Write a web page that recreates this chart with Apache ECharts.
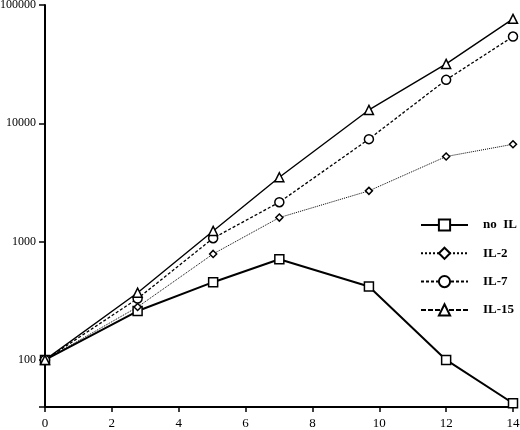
<!DOCTYPE html>
<html>
<head>
<meta charset="utf-8">
<script src="https://cdn.jsdelivr.net/npm/echarts@6/dist/echarts.min.js"></script>
<style>html,body{margin:0;padding:0;background:#fff;}#c{width:520px;height:430px;}</style>
</head>
<body>
<div id="c"></div>
<script>
var days = [0, 2.77, 5.03, 7.01, 9.69, 12, 14];
var seriesNames = ['no  IL', 'IL-2', 'IL-7', 'IL-15'];
var noIL = [100, 259, 454, 710, 417, 100, 43];
var il2 = [100, 280, 787, 1596, 2685, 5240, 6650];
var il7 = [100, 330, 1069, 2153, 7350, 23290, 54100];
var il15 = [100, 370, 1231, 3500, 12970, 31770, 76400];
var xTicks = [0, 2, 4, 6, 8, 10, 12, 14];
var yTicks = [100, 1000, 10000, 100000];

function pairs(vals) { return days.map(function (d, i) { return [d, vals[i]]; }); }

var FONT = '"Liberation Serif", "DejaVu Serif", serif';
var chart = echarts.init(document.getElementById('c'), null, { renderer: 'canvas' });

function mk(name, vals, symbol, size, lineStyle) {
  return {
    name: name, type: 'line', data: pairs(vals),
    symbol: symbol, symbolSize: size, showSymbol: true,
    itemStyle: { color: '#fff', borderColor: '#000', borderWidth: 1.5 },
    lineStyle: Object.assign({ color: '#000' }, lineStyle),
    emphasis: { disabled: true }, animation: false, z: 3
  };
}

chart.setOption({
  animation: false,
  grid: { left: 45, right: 7, top: 5, bottom: 23, containLabel: false, outerBoundsMode: 'none' },
  legend: {
    orient: 'vertical', left: 415, top: 213,
    itemWidth: 47, itemHeight: 14, itemGap: 14.3,
    textStyle: { fontFamily: FONT, fontWeight: 'bold', fontSize: 13, lineHeight: 14, color: '#000', padding: [0, 0, 0, 10] },
    data: [
      { name: seriesNames[0] },
      { name: seriesNames[1] },
      { name: seriesNames[2] },
      { name: seriesNames[3], lineStyle: { type: [5, 2] } }
    ],
    selectedMode: false
  },
  xAxis: {
    type: 'value', min: 0, max: 14, interval: 2,
    splitLine: { show: false },
    axisLine: { lineStyle: { color: '#000', width: 2 } },
    axisTick: { length: 5, lineStyle: { color: '#000', width: 1.5 } },
    axisLabel: { color: '#000', fontFamily: FONT, fontSize: 13, margin: 10,
      formatter: function (v) { return xTicks.indexOf(v) >= 0 ? String(v) : ''; } }
  },
  yAxis: {
    type: 'log', min: 40, max: 100000, logBase: 10,
    splitLine: { show: false },
    axisLine: { show: true, lineStyle: { color: '#000', width: 2 } },
    axisTick: { show: true, length: 6, lineStyle: { color: '#000', width: 1.5 } },
    axisLabel: { color: '#000', fontFamily: FONT, fontSize: 12, margin: 9,
      formatter: function (v) {
        for (var i = 0; i < yTicks.length; i++) { if (Math.abs(v - yTicks[i]) / yTicks[i] < 1e-6) return String(yTicks[i]); }
        return '';
      } }
  },
  series: [
    mk(seriesNames[0], noIL, 'rect', 9, { width: 2, type: 'solid' }),
    mk(seriesNames[1], il2, 'diamond', 7, { width: 1, type: 'dotted' }),
    mk(seriesNames[2], il7, 'circle', 9, { width: 1.3, type: [3, 2] }),
    mk(seriesNames[3], il15, 'triangle', 9, { width: 1.4, type: 'solid' })
  ]
});
</script>
</body>
</html>
